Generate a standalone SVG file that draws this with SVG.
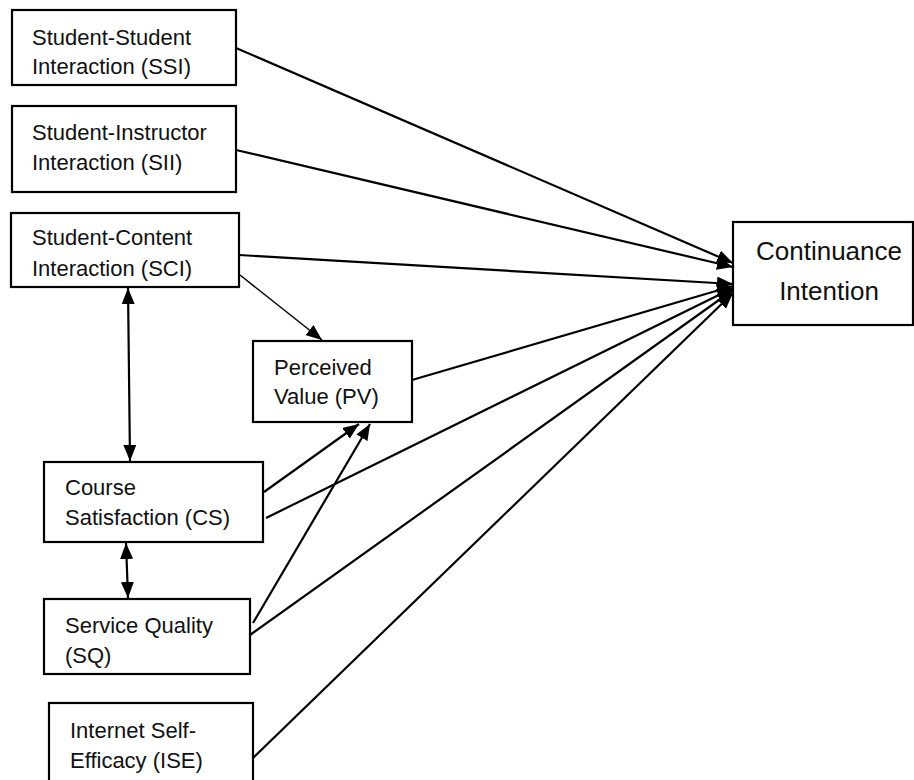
<svg xmlns="http://www.w3.org/2000/svg" width="914" height="780" viewBox="0 0 914 780">
  <style>
    .box { fill: #ffffff; stroke: #000000; stroke-width: 2.2; }
    .lbl { font-family: "Liberation Sans", Arial, sans-serif; font-size: 22px; fill: #111111; }
    .big { font-family: "Liberation Sans", Arial, sans-serif; font-size: 26px; fill: #111111; text-anchor: middle; }
    .edge { stroke: #000000; stroke-width: 2.2; fill: none; marker-end: url(#arrow); }
    .thin { stroke-width: 1.5; }
    .both { marker-start: url(#arrowStart); }
  </style>
  <defs>
    <!-- filled triangular heads, fixed size in user units -->
    <marker id="arrow" viewBox="0 0 16 13" refX="16" refY="6.5" markerWidth="16" markerHeight="13" markerUnits="userSpaceOnUse" orient="auto">
      <path d="M0,0 L16,6.5 L0,13 Z" fill="#000000"/>
    </marker>
    <marker id="arrowStart" viewBox="0 0 16 13" refX="0" refY="6.5" markerWidth="16" markerHeight="13" markerUnits="userSpaceOnUse" orient="auto">
      <path d="M16,0 L0,6.5 L16,13 Z" fill="#000000"/>
    </marker>
  </defs>

  <rect width="914" height="780" fill="#ffffff"/>

  <!-- connectors -->
  <g id="connectors">
    <line class="edge" x1="236" y1="48" x2="733" y2="263"/>
    <line class="edge" x1="236" y1="150" x2="733" y2="267"/>
    <line class="edge" x1="239" y1="255" x2="733" y2="284"/>
    <line class="edge thin" x1="240" y1="275" x2="322" y2="340"/>
    <line class="edge" x1="412" y1="380" x2="733" y2="286"/>
    <line class="edge" x1="264" y1="492" x2="359" y2="424"/>
    <line class="edge" x1="266" y1="518" x2="733" y2="288"/>
    <line class="edge" x1="253" y1="623" x2="370" y2="424"/>
    <line class="edge" x1="250" y1="635" x2="733" y2="290"/>
    <line class="edge" x1="253" y1="758" x2="733" y2="293"/>
    <line class="edge both" x1="128" y1="288" x2="130" y2="461"/>
    <line class="edge both" x1="126" y1="543" x2="128" y2="598"/>
  </g>

  <g id="ssi">
    <rect class="box" x="12" y="10" width="224" height="75"/>
    <text class="lbl" x="32" y="45">Student-Student</text>
    <text class="lbl" x="32" y="74">Interaction (SSI)</text>
  </g>

  <g id="sii">
    <rect class="box" x="12" y="106" width="224" height="86"/>
    <text class="lbl" x="32" y="140">Student-Instructor</text>
    <text class="lbl" x="32" y="170">Interaction (SII)</text>
  </g>

  <g id="sci">
    <rect class="box" x="11" y="213" width="228" height="74"/>
    <text class="lbl" x="32" y="245">Student-Content</text>
    <text class="lbl" x="32" y="276">Interaction (SCI)</text>
  </g>

  <g id="pv">
    <rect class="box" x="253" y="341" width="159" height="81"/>
    <text class="lbl" x="274" y="375">Perceived</text>
    <text class="lbl" x="274" y="404">Value (PV)</text>
  </g>

  <g id="cs">
    <rect class="box" x="44" y="462" width="219" height="80"/>
    <text class="lbl" x="65" y="495">Course</text>
    <text class="lbl" x="65" y="525">Satisfaction (CS)</text>
  </g>

  <g id="sq">
    <rect class="box" x="44" y="599" width="206" height="75"/>
    <text class="lbl" x="65" y="633">Service Quality</text>
    <text class="lbl" x="65" y="663">(SQ)</text>
  </g>

  <g id="ise">
    <rect class="box" x="49" y="703" width="204" height="90"/>
    <text class="lbl" x="70" y="738">Internet Self-</text>
    <text class="lbl" x="70" y="768">Efficacy (ISE)</text>
  </g>

  <g id="ci">
    <rect class="box" x="733" y="222" width="180" height="103"/>
    <text class="big" x="829" y="260">Continuance</text>
    <text class="big" x="829" y="300">Intention</text>
  </g>
</svg>
